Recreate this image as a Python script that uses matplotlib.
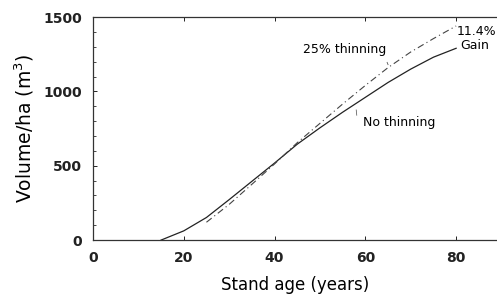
import matplotlib
matplotlib.use("Agg")
import matplotlib.pyplot as plt
from matplotlib.ticker import MultipleLocator

age_no = [15, 20, 25, 30, 35, 40, 45, 50, 55, 60, 65, 70, 75, 80]
vol_no = [0, 62, 152, 272, 395, 518, 645, 755, 860, 960, 1060, 1150, 1230, 1290]
age_th = [25, 30, 35, 40, 45, 50, 55, 60, 65, 70, 75, 80]
vol_th = [120, 240, 375, 512, 655, 785, 915, 1040, 1160, 1265, 1355, 1440]

fig = plt.figure(figsize=(4.97, 2.99), dpi=100)
ax = fig.add_axes([0.187, 0.197, 0.813, 0.746])
ax.plot(age_no, vol_no, color="#222222", lw=0.9, ls="-")
ax.plot(age_th, vol_th, color="#444444", lw=0.8, ls=(0, (6, 3, 1, 3)))

ax.set_xlim(0, 89)
ax.set_ylim(0, 1500)
ax.set_xticks([0, 20, 40, 60, 80])
ax.set_yticks([0, 500, 1000, 1500])
ax.yaxis.set_minor_locator(MultipleLocator(100))
ax.tick_params(axis="both", which="both", direction="in", top=True, right=False)
ax.tick_params(axis="both", which="major", length=3, width=0.6, labelsize=10, pad=8)
ax.tick_params(axis="y", which="minor", length=2, width=0.5)
for lab in ax.get_xticklabels() + ax.get_yticklabels():
    lab.set_fontweight("bold")
    lab.set_color("#222222")
ax.spines["right"].set_visible(False)
for s in ["left", "bottom", "top"]:
    ax.spines[s].set_linewidth(0.9)
    ax.spines[s].set_color("#333333")

ax.set_xlabel("Stand age (years)", fontsize=12, labelpad=8)
ax.set_ylabel("Volume/ha (m$^3$)", fontsize=13.5, labelpad=5)

ax.text(55.5, 1285, "25% thinning", fontsize=9, ha="center", va="center")
ax.plot([64.8, 65.0], [1195, 1180], color="#555555", lw=0.6)
ax.text(59.5, 790, "No thinning", fontsize=9, ha="left", va="center")
ax.plot([58.0, 58.1], [875, 840], color="#666666", lw=0.6)
ax.text(80.2, 1400, "11.4%", fontsize=9, ha="left", va="center")
ax.text(81.0, 1310, "Gain", fontsize=9, ha="left", va="center")

fig.savefig("out.png", dpi=100)
